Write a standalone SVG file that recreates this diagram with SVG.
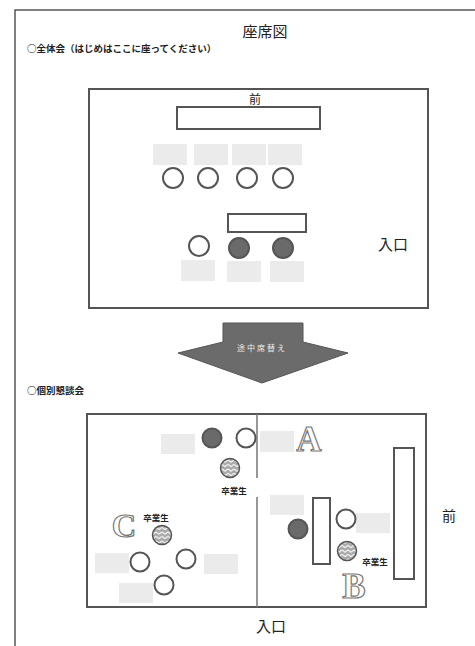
<svg xmlns="http://www.w3.org/2000/svg" width="475" height="646" viewBox="0 0 475 646">
<defs>
<pattern id="zig" patternUnits="userSpaceOnUse" width="6" height="4.5">
<rect width="6" height="4.5" fill="#a8a8a8"/>
<path d="M0,1 L3,3.2 L6,1" fill="none" stroke="#fff" stroke-width="1.1"/>
</pattern>
</defs>
<style>
.frame{fill:none;stroke:#555;stroke-width:2}
.tbl{fill:#fff;stroke:#555;stroke-width:2}
.lbl{fill:#ebebeb}
.seat{fill:#fff;stroke:#555;stroke-width:2}
.dark{fill:#6a6a6a;stroke:#555;stroke-width:2}
.grad{fill:url(#zig);stroke:#555;stroke-width:1.5}
.jp{font-family:"Noto Sans CJK JP","Noto Sans",sans-serif;fill:#222}
.big{font-family:"Liberation Serif",serif;font-weight:bold;fill:#fff;stroke:#777;stroke-width:1.2}
</style>
<rect width="475" height="646" fill="#fff"/>
<path d="M15,646 V10 H475" fill="none" stroke="#555" stroke-width="1.5"/>
<g id="title">
<text class="jp" x="265" y="37" font-size="15" text-anchor="middle">座席図</text>
<text class="jp" x="27" y="52" font-size="9.5" font-weight="bold">○全体会（はじめはここに座ってください）</text>
</g>
<g id="room1">
<rect class="frame" x="89" y="89" width="339" height="219"/>
<text class="jp" x="255" y="104" font-size="12" text-anchor="middle">前</text>
<rect class="tbl" x="177" y="107" width="143" height="22"/>
<rect class="tbl" x="228" y="214" width="78" height="18"/>
<text class="jp" x="378" y="250" font-size="15">入口</text>
</g>
<g id="labels1">
<rect class="lbl" x="153" y="144" width="34" height="21"/>
<rect class="lbl" x="194" y="144" width="34" height="21"/>
<rect class="lbl" x="232" y="144" width="34" height="21"/>
<rect class="lbl" x="268" y="144" width="34" height="21"/>
<rect class="lbl" x="181" y="260" width="34" height="21"/>
<rect class="lbl" x="227" y="261" width="34" height="21"/>
<rect class="lbl" x="270" y="261" width="34" height="21"/>
</g>
<g id="seats1">
<circle class="seat" cx="173" cy="178" r="10"/>
<circle class="seat" cx="208" cy="178" r="10"/>
<circle class="seat" cx="247" cy="178" r="10"/>
<circle class="seat" cx="283" cy="178" r="10"/>
<circle class="seat" cx="199" cy="246" r="10"/>
<circle class="dark" cx="239" cy="248" r="10"/>
<circle class="dark" cx="283" cy="248" r="10"/>
</g>
<g id="arrow">
<path d="M223,323 H303 V342 L348,353 L262,383 L178,353 L223,342 Z" fill="#6b6b6b" stroke="#555" stroke-width="1"/>
<text class="jp" x="262" y="351" font-size="8" letter-spacing="2" text-anchor="middle" style="fill:#eee">途中席替え</text>
</g>
<g id="heading2">
<text class="jp" x="27" y="394" font-size="9.5" font-weight="bold">○個別懇談会</text>
</g>
<g id="room2">
<rect class="frame" x="87" y="414" width="339" height="193"/>
<path d="M257,414 V478 M257,497 V607" stroke="#777" stroke-width="1.5" fill="none"/>
<text class="jp" x="256" y="632" font-size="15">入口</text>
<text class="jp" x="442" y="521" font-size="14">前</text>
<rect class="tbl" x="313" y="498" width="17" height="66"/>
<rect class="tbl" x="394" y="448" width="20" height="131"/>
</g>
<g id="groupA">
<rect class="lbl" x="161" y="434" width="34" height="20"/>
<rect class="lbl" x="260" y="431" width="34" height="21"/>
<circle class="dark" cx="212" cy="438" r="9.5"/>
<circle class="seat" cx="246" cy="438" r="9.5"/>
<circle class="grad" cx="230" cy="468" r="9.5"/>
<text class="jp" x="234" y="494" font-size="8.5" font-weight="bold" text-anchor="middle">卒業生</text>
<text class="big" x="309" y="451" font-size="35" text-anchor="middle">A</text>
</g>
<g id="groupB">
<rect class="lbl" x="270" y="495" width="34" height="20"/>
<rect class="lbl" x="356" y="513" width="34" height="20"/>
<circle class="dark" cx="298" cy="529" r="9.5"/>
<circle class="seat" cx="346" cy="519" r="9.5"/>
<circle class="grad" cx="347" cy="551" r="9.5"/>
<text class="jp" x="375" y="565" font-size="8.5" font-weight="bold" text-anchor="middle">卒業生</text>
<text class="big" x="354" y="598" font-size="35" text-anchor="middle">B</text>
</g>
<g id="groupC">
<rect class="lbl" x="95" y="553" width="34" height="20"/>
<rect class="lbl" x="204" y="554" width="34" height="20"/>
<rect class="lbl" x="119" y="583" width="34" height="20"/>
<circle class="grad" cx="162" cy="535" r="9.5"/>
<circle class="seat" cx="140" cy="562" r="9.5"/>
<circle class="seat" cx="186" cy="559" r="9.5"/>
<circle class="seat" cx="164" cy="585" r="9.5"/>
<text class="jp" x="156" y="521" font-size="8.5" font-weight="bold" text-anchor="middle">卒業生</text>
<text class="big" x="124" y="537" font-size="34" text-anchor="middle">C</text>
</g>
</svg>
